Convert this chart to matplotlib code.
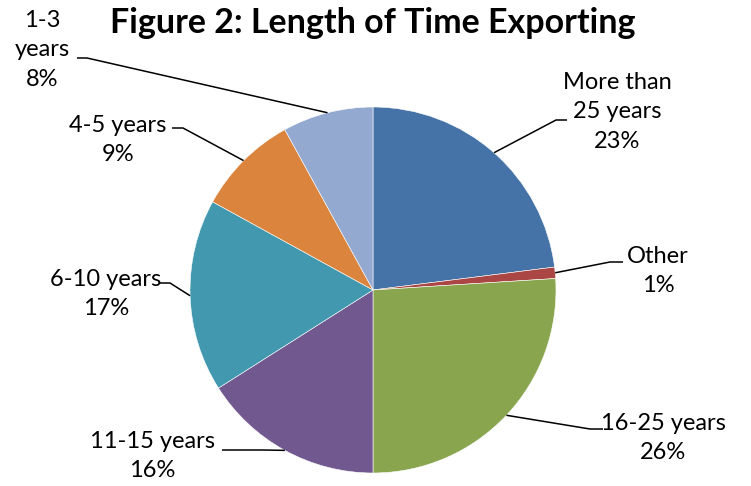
import numpy as np
import matplotlib
matplotlib.use('Agg')
import matplotlib.pyplot as plt

plt.rcParams['font.family'] = ['Lato', 'DejaVu Sans']

# Datos del gráfico (en sentido horario desde las 12)
etiquetas = ["More than\n25 years", "Other", "16-25 years", "11-15 years",
             "6-10 years", "4-5 years", "1-3\nyears"]
porcentajes = [23, 1, 26, 16, 17, 9, 8]
colores = ['#4572A7', '#AA4643', '#89A54E', '#71588F',
           '#4198AF', '#DB843D', '#93A9CF']

W, H = 751, 486
fig = plt.figure(figsize=(W / 100, H / 100), dpi=100)
ax = fig.add_axes([0, 0, 1, 1])


def py(y):
    # coordenada de pixel (desde arriba) a coordenada de datos
    return H - y


cx, cy, r = 373, py(290), 183
ax.pie(porcentajes, colors=colores, startangle=90, counterclock=False,
       center=(cx, cy), radius=r, frame=True,
       wedgeprops=dict(edgecolor='white', linewidth=0.4))
ax.set_xlim(0, W)
ax.set_ylim(0, H)
ax.set_aspect('equal')
ax.axis('off')

ax.text(373, py(23), "Figure 2: Length of Time Exporting", ha='center',
        va='center', fontsize=24.5, fontweight='bold')

# posiciones de etiquetas (centro del texto) y del tramo horizontal
pos_texto = [(617, 112), (658, 271), (663, 438), (152, 456),
             (106, 294), (118, 140), (42, 50)]
tramo = [((567, 120), (556, 120)), ((623, 262), (610, 262)),
         ((603, 429), (590, 429)), ((222, 450), (262, 450)),
         ((159, 283), (170, 283)), ((172, 128), (183, 128)),
         ((77, 58), (87, 58))]

acum = 0
for i, p in enumerate(porcentajes):
    medio = np.deg2rad(90 - 360 * (acum + p / 2) / sum(porcentajes))
    acum += p
    ex = cx + r * np.cos(medio)
    ey = cy + r * np.sin(medio)
    (x0, y0), (x1, y1) = tramo[i]
    ax.plot([x0, x1, ex], [py(y0), py(y1), ey], color='black', lw=1.1,
            solid_capstyle='butt')
    tx, ty = pos_texto[i]
    ax.text(tx, py(ty), f"{etiquetas[i]}\n{p}%", ha='center', va='center',
            fontsize=17, linespacing=1.5)

fig.savefig('out.png', dpi=100)
